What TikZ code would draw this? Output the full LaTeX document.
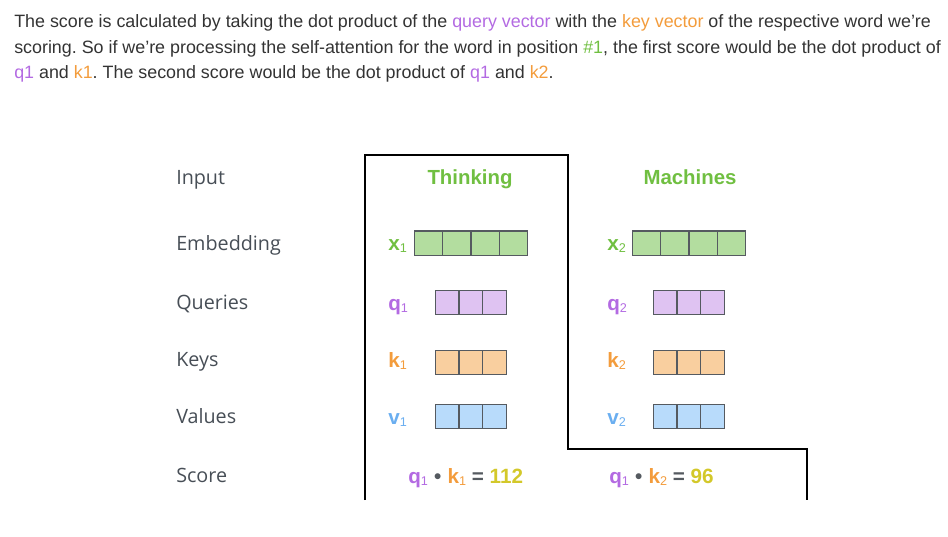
\documentclass[tikz,border=0pt]{standalone}
\usepackage{fontspec}
\setmainfont{Liberation Sans}
\newfontfamily\labfont{Open Sans}
\frenchspacing
\definecolor{txt}{HTML}{333333}
\definecolor{labgray}{HTML}{474E56}
\definecolor{qpur}{HTML}{B36AE2}
\definecolor{qfill}{HTML}{DFC3F2}
\definecolor{korange}{HTML}{F39C3C}
\definecolor{kfill}{HTML}{F9CF9F}
\definecolor{vblue}{HTML}{6AAEF0}
\definecolor{vfill}{HTML}{B8DBFB}
\definecolor{xgreen}{HTML}{70BF41}
\definecolor{xfill}{HTML}{B3DD9F}
\definecolor{cellline}{HTML}{555A60}
\definecolor{numcol}{HTML}{D3C82A}
\definecolor{opgray}{HTML}{555A60}
\newcommand\subn[1]{\raisebox{-0.12em}{\fontsize{9.5}{9.5}\selectfont\mdseries #1}}
\begin{document}
\begin{tikzpicture}[x=0.75pt,y=-0.75pt,
  para/.style={anchor=base west, inner sep=0pt, text=txt, font=\fontsize{13.4}{15}\selectfont},
  rowlab/.style={anchor=base west, inner sep=0pt, text=labgray, font=\labfont\fontsize{14.8}{16}\selectfont},
  word/.style={anchor=base, inner sep=0pt, text=xgreen, font=\bfseries\fontsize{15.3}{16}\selectfont},
  vlab/.style={anchor=base west, inner sep=0pt, font=\bfseries\fontsize{15.5}{16}\selectfont},
  cell/.style={draw=cellline, line width=0.9pt},
  frame/.style={draw=black, line width=1.1pt}
]
\useasboundingbox (0,0) rectangle (948,536);

% paragraph
\node[para] (p1) at (14,27) {The score is calculated by taking the dot product of the \textcolor{qpur}{query vector} with the \textcolor{korange}{key vector} of the respective word we’re};
\node[para] (p2) at (14,53) {scoring. So if we’re processing the self-attention for the word in position \textcolor{xgreen}{\#1}, the first score would be the dot product of};
\node[para] (p3) at (14,78) {\textcolor{qpur}{q1} and \textcolor{korange}{k1}. The second score would be the dot product of \textcolor{qpur}{q1} and \textcolor{korange}{k2}.};

% frame
\draw[frame] (365,500) -- (365,155) -- (568,155) -- (568,449) -- (807,449) -- (807,500);

% row labels
\node[rowlab] (input) at (176,184.5) {Input};
\node[rowlab] (embed) at (176,250.5) {Embedding};
\node[rowlab] (queries) at (176,309.5) {Queries};
\node[rowlab] (keys) at (176,366.5) {Keys};
\node[rowlab] (values) at (176,423.5) {Values};
\node[rowlab] (score) at (176,482.5) {Score};

% words
\node[word] (w1) at (470,184.5) {Thinking};
\node[word] (w2) at (690,184.5) {Machines};

% vector labels
\node[vlab, text=xgreen] (x1) at (388,250) {x\subn{1}};
\node[vlab, text=qpur] (q1) at (388,310) {q\subn{1}};
\node[vlab, text=korange] (k1) at (388,367) {k\subn{1}};
\node[vlab, text=vblue] (v1) at (388,424) {v\subn{1}};
\node[vlab, text=xgreen] (x2) at (607,250) {x\subn{2}};
\node[vlab, text=qpur] (q2) at (607,310) {q\subn{2}};
\node[vlab, text=korange] (k2) at (607,367) {k\subn{2}};
\node[vlab, text=vblue] (v2) at (607,424) {v\subn{2}};

% embedding cells
\foreach \x in {414.3,632.3}{
  \foreach \i in {0,1,2,3}{
    \draw[cell, fill=xfill] (\x+\i*28.35,231) rectangle ++(28.35,24.3);
  }
}
% q/k/v cells
\foreach \x in {435.3,653.3}{
  \foreach \y/\f in {290.3/qfill,350.3/kfill,404.3/vfill}{
    \foreach \i in {0,1,2}{
      \draw[cell, fill=\f] (\x+\i*23.67,\y) rectangle ++(23.67,24);
    }
  }
}

% scores
\node[vlab] (s1) at (408,483) {\textcolor{qpur}{q\subn{1}}\hspace{0.3em}\textcolor{opgray}{•}\hspace{0.3em}\textcolor{korange}{k\subn{1}} \textcolor{opgray}{=} \textcolor{numcol}{112}};
\node[vlab] (s2) at (609,483) {\textcolor{qpur}{q\subn{1}}\hspace{0.3em}\textcolor{opgray}{•}\hspace{0.3em}\textcolor{korange}{k\subn{2}} \textcolor{opgray}{=} \textcolor{numcol}{96}};
\end{tikzpicture}
\end{document}
